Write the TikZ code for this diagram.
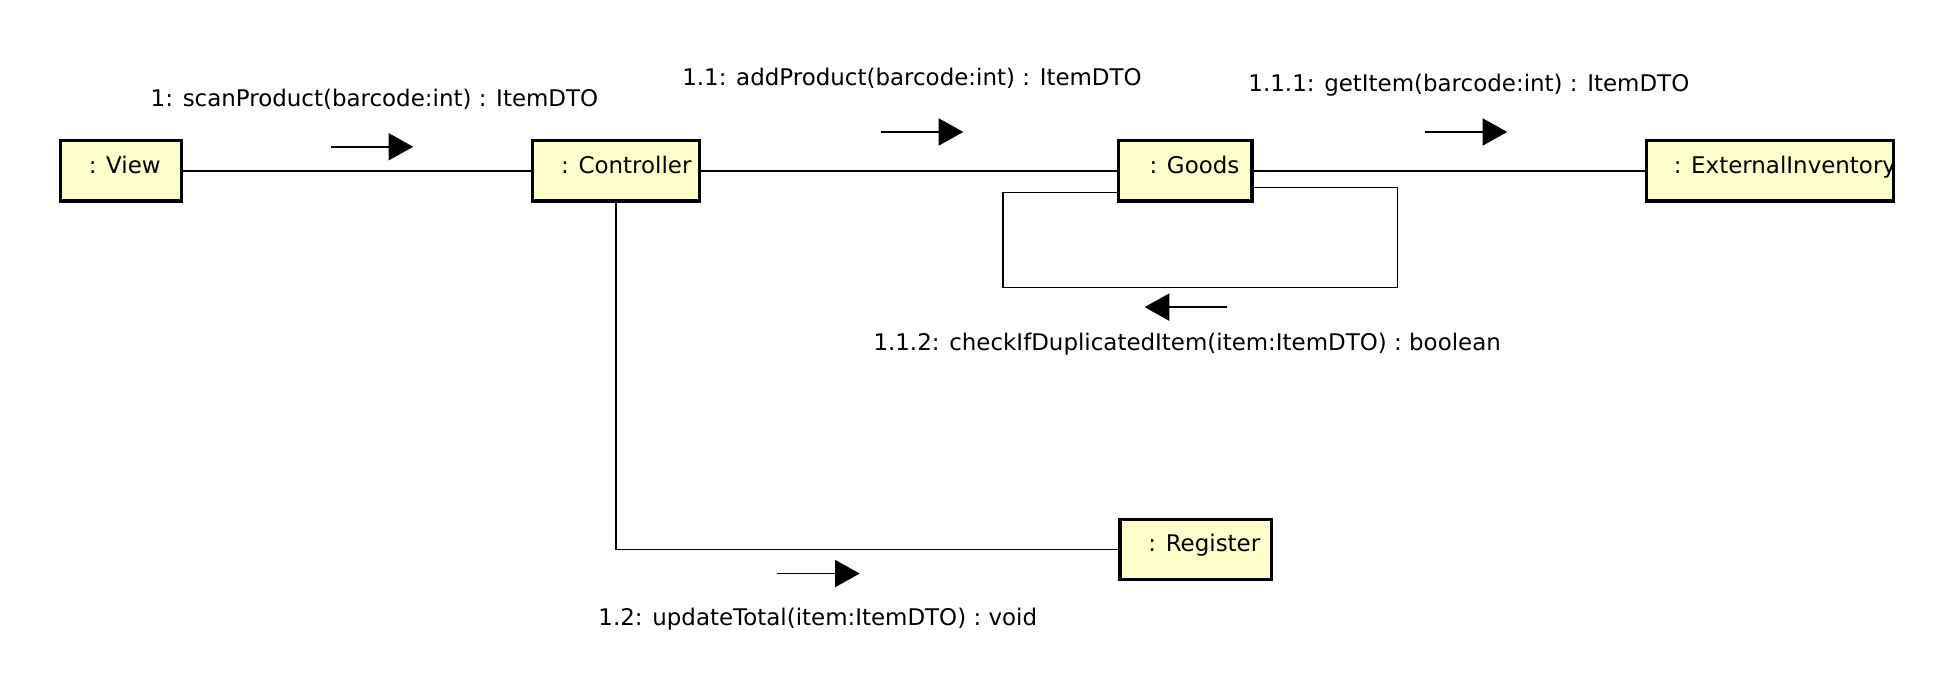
\documentclass[tikz,border=0pt]{standalone}
\usepackage{fontspec}
\setmainfont{DejaVu Sans}
\usetikzlibrary{arrows.meta}
\definecolor{umlyellow}{RGB}{255,255,204}
\begin{document}
\begin{tikzpicture}[x=1pt,y=-1pt,
  obj/.style={draw, line width=2.6pt, fill=umlyellow, anchor=north west, outer sep=0pt, inner xsep=0pt, inner ysep=0pt, minimum height=49pt, text height=13pt, text depth=9pt, font=\fontsize{18.6pt}{22pt}\selectfont},
  msg/.style={anchor=base west, inner sep=0pt, font=\fontsize{18.6pt}{22pt}\selectfont},
  link/.style={line width=1.2pt},
  dirarrow/.style={line width=1.2pt, -{Triangle[length=20pt,width=22pt]}}]
\useasboundingbox (0,0) rectangle (1568,564);
\fill[white] (0,0) rectangle (1568,564);

% objects
\node[obj] (view) at (49,114) {\makebox[98pt][l]{\hspace*{23pt}: View}};
\node[obj] (controller) at (432,114) {\makebox[135pt][l]{\hspace*{23pt}: Controller}};
\node[obj] (goods) at (907,114) {\makebox[108pt][l]{\hspace*{25pt}: Goods}};
\node[obj] (extinv) at (1335,114) {\makebox[200pt][l]{\hspace*{22pt}: ExternalInventory}};
\node[obj] (register) at (908,421) {\makebox[123pt][l]{\hspace*{23pt}: Register}};

% links
\draw[link] (view.east) -- (controller.west);
\draw[link] (controller.east) -- (goods.west);
\draw[link] (goods.east) -- (extinv.west);
\draw[link] (controller.south) |- (register.west);
\coordinate (l1) at (813,156);
\coordinate (l2) at (813,233);
\coordinate (l3) at (1133,233);
\coordinate (l4) at (1133,152);
\draw[link] (goods.west |- l1) -- (l1) -- (l2) -- (l3) -- (l4) -- (goods.east |- l4);

% message arrows
\coordinate (a1s) at (268,119); \coordinate (a1e) at (335,119);
\coordinate (a2s) at (714,107); \coordinate (a2e) at (781,107);
\coordinate (a3s) at (1155,107); \coordinate (a3e) at (1222,107);
\coordinate (a4s) at (995,249); \coordinate (a4e) at (928,249);
\coordinate (a5s) at (630,465); \coordinate (a5e) at (697,465);
\draw[dirarrow] (a1s) -- (a1e);
\draw[dirarrow] (a2s) -- (a2e);
\draw[dirarrow] (a3s) -- (a3e);
\draw[dirarrow] (a4s) -- (a4e);
\draw[dirarrow] (a5s) -- (a5e);

% message labels
\node[msg] (m1) at (122,86) {1: scanProduct(barcode:int) : ItemDTO};
\node[msg] (m2) at (553,69) {1.1: addProduct(barcode:int) : ItemDTO};
\node[msg] (m3) at (1012,74) {1.1.1: getItem(barcode:int) : ItemDTO};
\node[msg] (m4) at (708,284) {1.1.2: checkIfDuplicatedItem(item:ItemDTO) : boolean};
\node[msg] (m5) at (485,507) {1.2: updateTotal(item:ItemDTO) : void};
\end{tikzpicture}
\end{document}
